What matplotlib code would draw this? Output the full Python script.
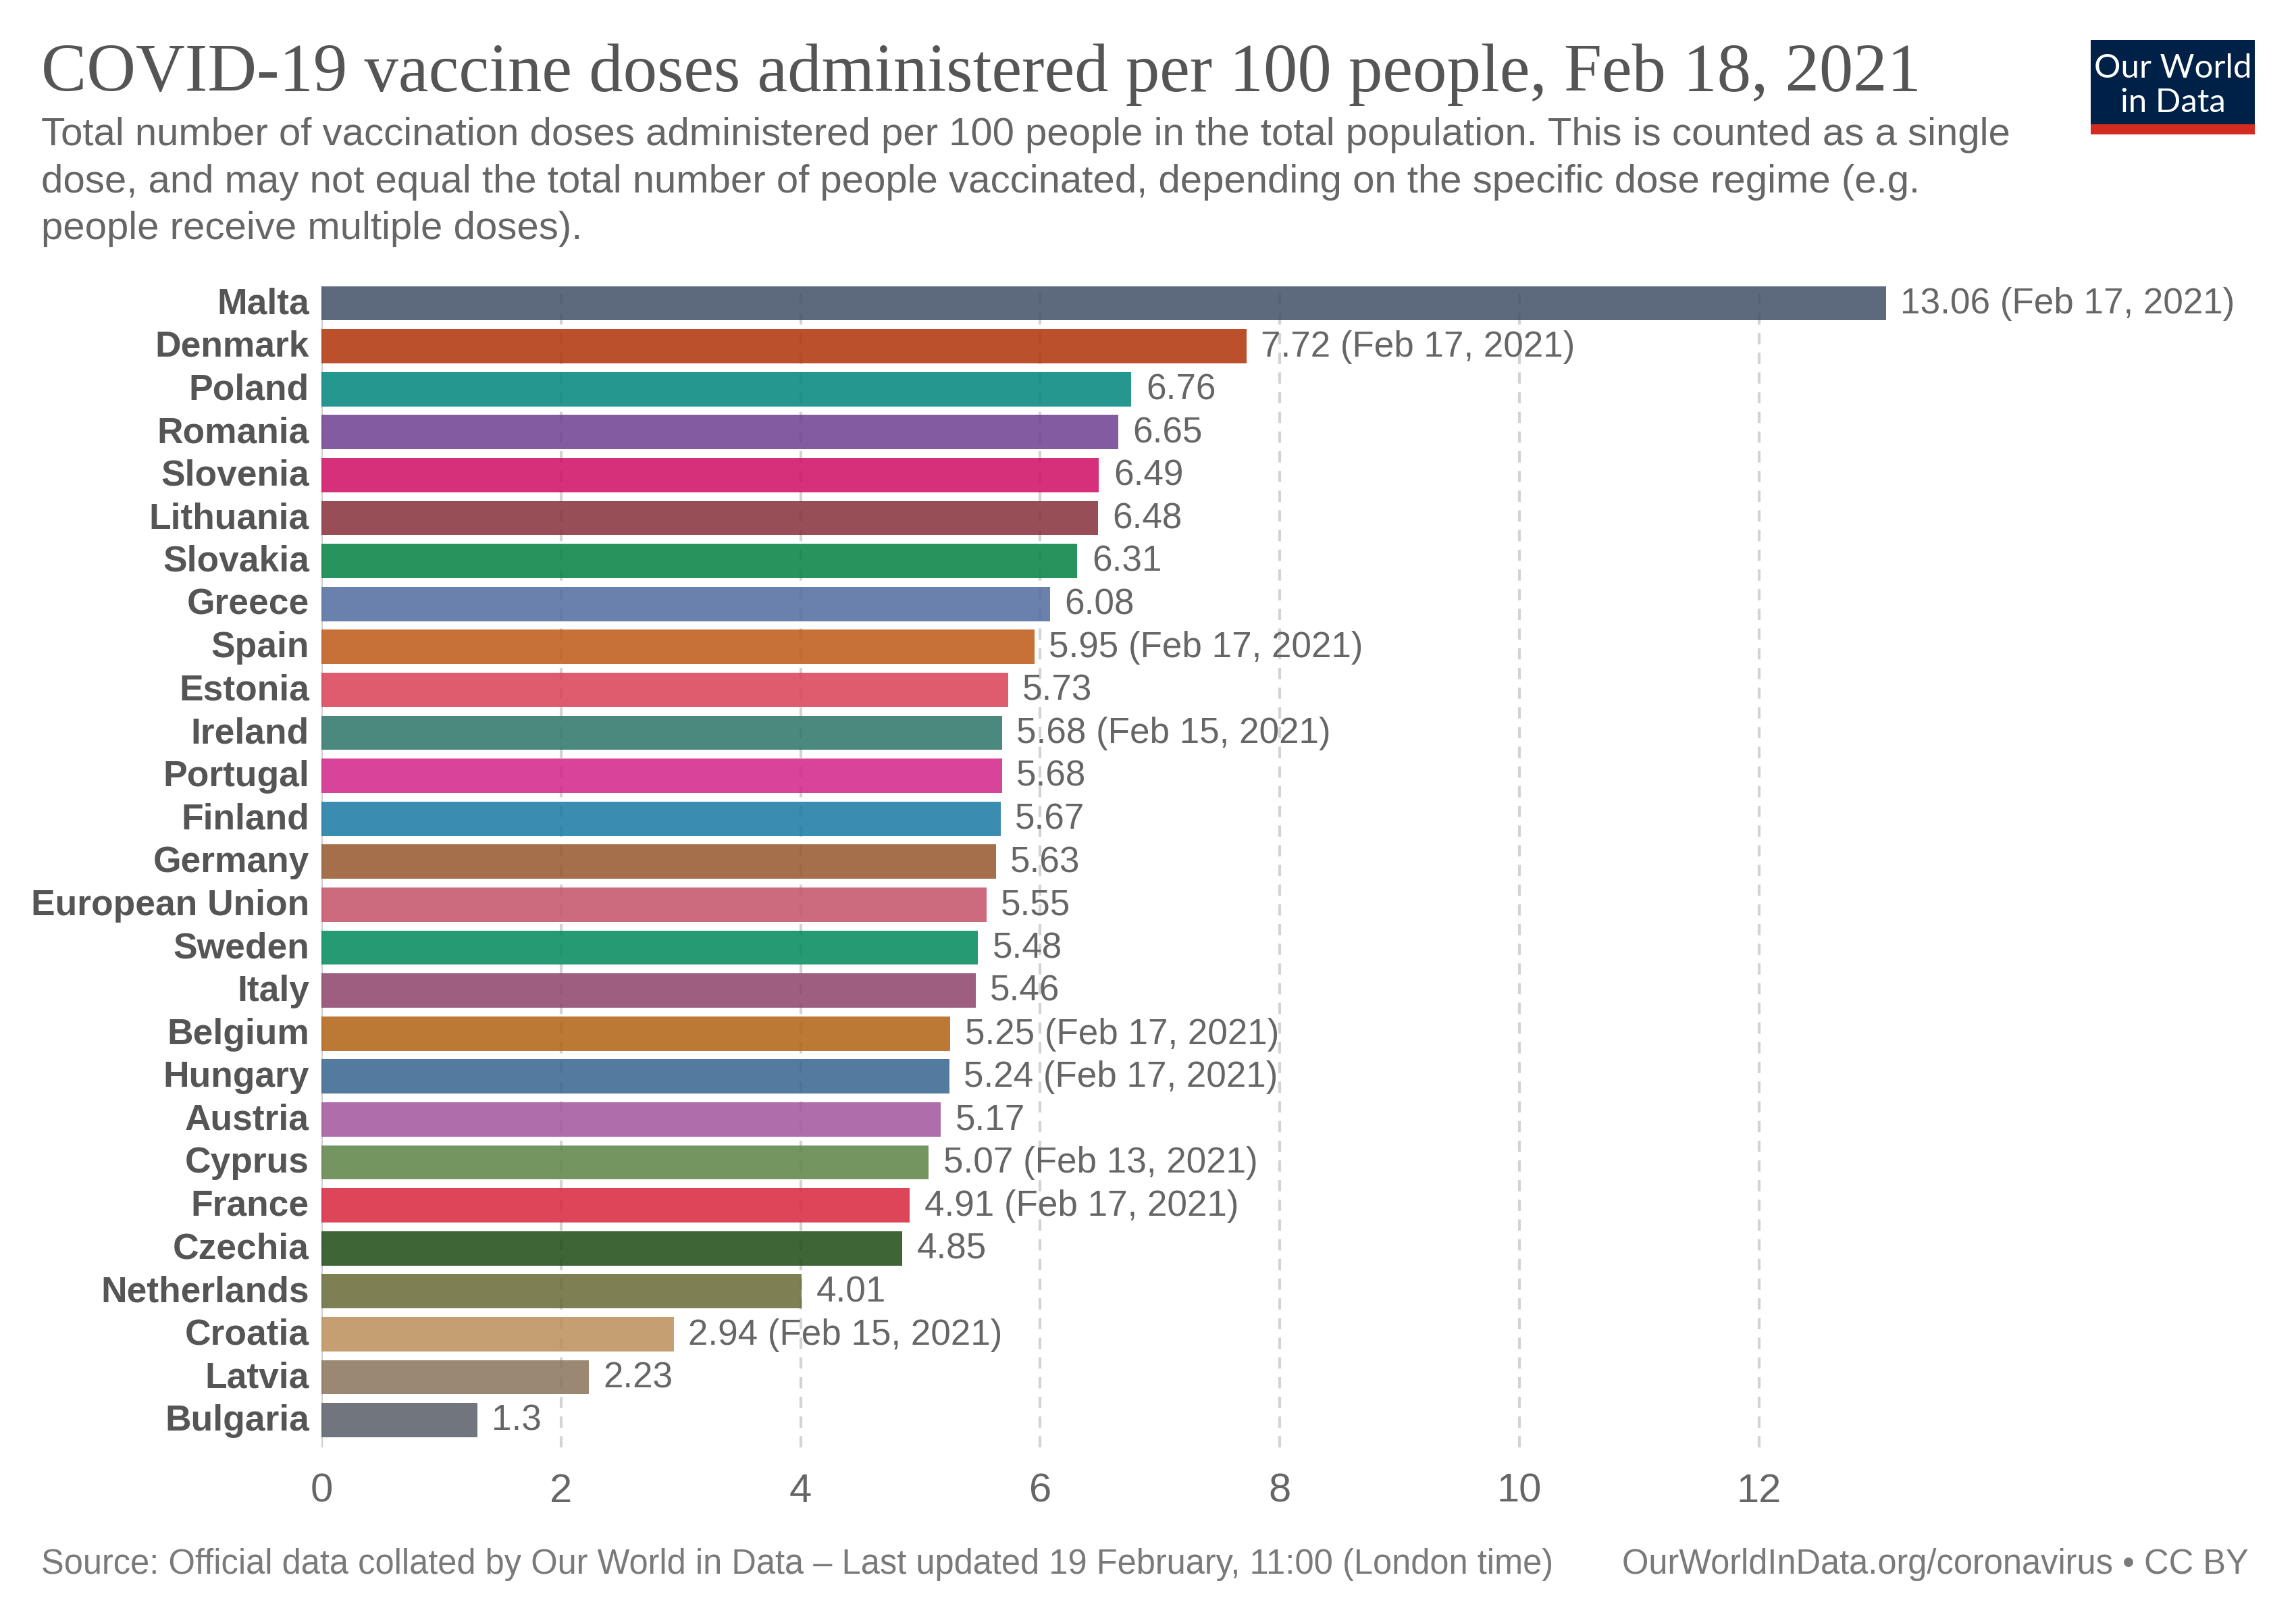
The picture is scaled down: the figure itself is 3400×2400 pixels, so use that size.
import matplotlib
matplotlib.use('Agg')
import matplotlib.pyplot as plt
from matplotlib.colors import to_rgb
from matplotlib.patches import Rectangle

paises = ['Malta', 'Denmark', 'Poland', 'Romania', 'Slovenia', 'Lithuania', 'Slovakia', 'Greece', 'Spain',
          'Estonia', 'Ireland', 'Portugal', 'Finland', 'Germany', 'European Union', 'Sweden', 'Italy',
          'Belgium', 'Hungary', 'Austria', 'Cyprus', 'France', 'Czechia', 'Netherlands', 'Croatia',
          'Latvia', 'Bulgaria']
dosis = [13.06, 7.72, 6.76, 6.65, 6.49, 6.48, 6.31, 6.08, 5.95, 5.73, 5.68, 5.68, 5.67, 5.63, 5.55, 5.48,
         5.46, 5.25, 5.24, 5.17, 5.07, 4.91, 4.85, 4.01, 2.94, 2.23, 1.3]
fechas = ['Feb 17, 2021', 'Feb 17, 2021', '', '', '', '', '', '', 'Feb 17, 2021', '', 'Feb 15, 2021', '', '',
          '', '', '', '', 'Feb 17, 2021', 'Feb 17, 2021', '', 'Feb 13, 2021', 'Feb 17, 2021', '', '',
          'Feb 15, 2021', '', '']
colores = ['#5D6A7E', '#BC522C', '#26978F', '#835BA0', '#D6307B', '#974E56', '#26955C', '#6A81AE', '#C87038',
           '#DF5C6E', '#4B8A7E', '#D8449A', '#3A8CB1', '#A56F4B', '#CE6B7E', '#249B73', '#9E5E80', '#BD7835',
           '#537BA0', '#B06EAB', '#759660', '#DF4559', '#3D6535', '#7E8053', '#C59F72', '#9B8873', '#71757E']
marcas_x = [0, 2, 4, 6, 8, 10, 12]

titulo = 'COVID-19 vaccine doses administered per 100 people, Feb 18, 2021'
subtitulo = ['Total number of vaccination doses administered per 100 people in the total population. This is counted as a single',
             'dose, and may not equal the total number of people vaccinated, depending on the specific dose regime (e.g.',
             'people receive multiple doses).']
fuente = 'Source: Official data collated by Our World in Data – Last updated 19 February, 11:00 (London time)'
url = 'OurWorldInData.org/coronavirus • CC BY'

ANCHO, ALTO = 3400, 2400
plt.rcParams['font.family'] = ['Liberation Sans', 'DejaVu Sans']


def px(x, y):
    # pixeles de la imagen (origen arriba a la izquierda) a fraccion de figura
    return x / ANCHO, 1 - y / ALTO


def sin_blanco(color, alfa=0.85):
    # las barras son semitransparentes: se deshace la mezcla con el fondo blanco
    return tuple(max(0, (c - (1 - alfa)) / alfa) for c in to_rgb(color))


fig = plt.figure(figsize=(34, 24), dpi=100)

# ejes: x0=476, 177.4 px por unidad, paso de 63.6 px entre barras
izq, der, arriba, abajo = 476, 3345, 424, 2143
ax = fig.add_axes([izq / ANCHO, 1 - abajo / ALTO, (der - izq) / ANCHO, (abajo - arriba) / ALTO])
ax.set_xlim(0, (der - izq) / 177.4)
ax.set_ylim((abajo - 449) / 63.6, (arriba - 449) / 63.6)

posiciones = list(range(len(paises)))
ax.barh(posiciones, dosis, height=0.80, color=[sin_blanco(c) for c in colores], alpha=0.85, zorder=2)

for i, valor in enumerate(dosis):
    etiqueta = f'{valor} ({fechas[i]})' if fechas[i] else f'{valor}'
    ax.annotate(etiqueta, (valor, i), xytext=(15.5, 3), textcoords='offset points', va='center_baseline',
                fontsize=38.2, color='#666666', zorder=3)
    # nombres de pais como anotacion para poder subirlos un poco respecto a la barra
    ax.annotate(paises[i], (0, i), xytext=(-13, 3), textcoords='offset points', va='center_baseline', ha='right',
                fontsize=38.4, fontweight='bold', color='#555555', annotation_clip=False)

ax.set_xticks(marcas_x)
ax.set_yticks([])
ax.tick_params(axis='x', length=0, pad=27, labelsize=43, labelcolor='#666666')
ax.xaxis.grid(True, color='#d3d3d3', linestyle=(0, (4, 3)), linewidth=3, zorder=1)
ax.set_axisbelow(True)
for lado in ax.spines:
    ax.spines[lado].set_visible(False)
ax.axvline(0, color='#cfcfcf', linewidth=3, zorder=1)
ax.patch.set_visible(False)

# textos de cabecera
x, y = px(61, 135)
fig.text(x, y, titulo, family=['Liberation Serif'], fontsize=72.5, color='#555555', va='baseline')
for linea, base in zip(subtitulo, [215, 285, 354]):
    x, y = px(61, base)
    fig.text(x, y, linea, fontsize=41.9, color='#666666', va='baseline')

# pie
x, y = px(61, 2330)
fig.text(x, y, fuente, fontsize=36.45, color='#7a7a7a', va='baseline')
x, y = px(3330, 2330)
fig.text(x, y, url, fontsize=36.45, color='#7a7a7a', va='baseline', ha='right')

# logo
x, y = px(3096, 199)
fig.add_artist(Rectangle((x, y), 243 / ANCHO, 140 / ALTO, transform=fig.transFigure, color='#002147', lw=0))
fig.add_artist(Rectangle((x, y), 243 / ANCHO, 15 / ALTO, transform=fig.transFigure, color='#D42B21', lw=0))
x, y = px(3218, 115)
fig.text(x, y, 'Our World', fontsize=35.5, color='white', ha='center', va='baseline', family=['Lato'])
x, y = px(3218, 166)
fig.text(x, y, 'in Data', fontsize=35.5, color='white', ha='center', va='baseline', family=['Lato'])

fig.savefig('out.png', dpi=100, facecolor='white')
